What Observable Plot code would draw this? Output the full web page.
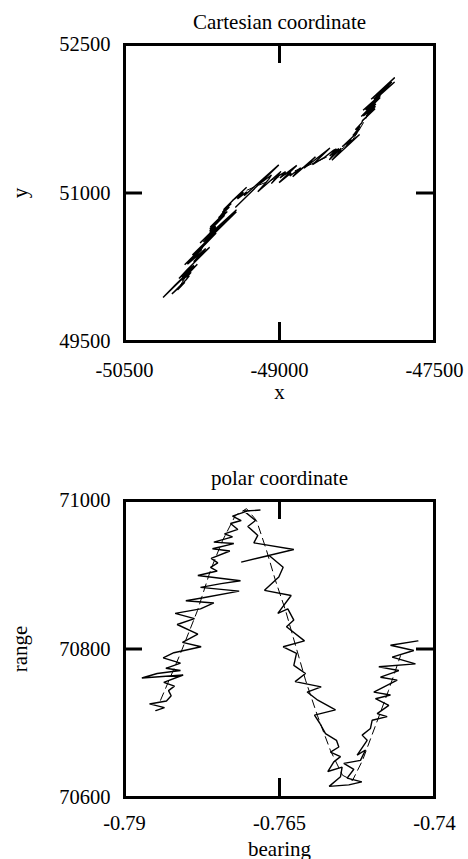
<!DOCTYPE html>
<html>
<head>
<meta charset="utf-8">
<script src="https://cdn.jsdelivr.net/npm/d3@7"></script>
<script src="https://cdn.jsdelivr.net/npm/@observablehq/plot@0.6"></script>
<style>
  html, body { margin: 0; padding: 0; background: #fff; }
  #chart svg { display: block; }
</style>
</head>
<body>
<div id="chart"></div>
<script>
// ---------- polar coordinate panel: noisy measurements ----------
const bearing = [-0.78495,-0.78355,-0.78597,-0.78323,-0.78247,-0.78290,-0.78194,-0.78366,-0.78054,-0.78720,
-0.78473,-0.78097,-0.78333,-0.78097,-0.78376,-0.78204,-0.77764,-0.78065,-0.77817,-0.78151,
-0.77871,-0.78183,-0.77774,-0.77559,-0.78011,-0.77731,-0.77151,-0.77774,-0.77441,-0.77129,
-0.77817,-0.77505,-0.77613,-0.77495,-0.77602,-0.77301,-0.77581,-0.77237,-0.77559,-0.77258,
-0.77387,-0.77172,-0.77290,-0.77118,-0.77258,-0.77011,-0.76807,-0.77075,-0.76887,-0.77011,
-0.76850,-0.76914,-0.76269,-0.77118,-0.76667,-0.76441,-0.76511,-0.76742,-0.76312,-0.76527,
-0.76366,-0.76269,-0.76387,-0.76097,-0.76441,-0.76226,-0.76269,-0.76081,-0.76248,-0.75828,
-0.76054,-0.75882,-0.75597,-0.75936,-0.75850,-0.75758,-0.75581,-0.75543,-0.75678,-0.75516,
-0.75624,-0.75721,-0.75490,-0.75516,-0.75699,-0.75382,-0.75172,-0.75409,-0.75301,-0.75463,
-0.75194,-0.75113,-0.75248,-0.75086,-0.75167,-0.75033,-0.75006,-0.74764,-0.74925,-0.74737,
-0.74952,-0.74710,-0.74979,-0.74602,-0.74871,-0.74576,-0.74898,-0.74307,-0.74683,-0.74334,
-0.74710,-0.74269];
const range = [70717,70721,70726,70730,70737,70744,70750,70755,70765,70761,
70767,70771,70774,70781,70788,70795,70803,70809,70820,70833,
70841,70848,70854,70862,70865,70869,70878,70883,70888,70892,
70899,70905,70910,70916,70922,70932,70935,70942,70944,70951,
70955,70961,70969,70973,70979,70986,70987,70986,70973,70965,
70953,70943,70934,70917,70926,70910,70897,70879,70872,70848,
70854,70839,70830,70811,70803,70794,70778,70767,70756,70749,
70742,70731,70718,70711,70700,70686,70677,70668,70661,70655,
70648,70635,70641,70628,70615,70617,70621,70626,70638,70646,
70650,70664,70657,70677,70684,70693,70704,70709,70713,70724,
70733,70738,70742,70758,70762,70771,70776,70780,70789,70798,
70805,70811];

// ---------- polar coordinate panel: smooth (dashed) track ----------
const trackBearing = [-0.78419,-0.78097,-0.77822,-0.77613,-0.77419,-0.77210,-0.77032,-0.76871,-0.76710,-0.76564,
-0.76403,-0.76242,-0.76080,-0.75887,-0.75677,-0.75484,-0.75322,-0.75161,-0.74951,-0.74742,-0.74548];
const trackRange = [70731,70794,70852,70906,70946,70980,70989,70973,70933,70892,
70852,70805,70758,70710,70663,70630,70623,70650,70697,70744,70791];

// ---------- Cartesian coordinate panel: noisy measurements ----------
const cartX = [-49983,-49916,-50041,-49906,-49873,-49899,-49855,-49945,-49795,-50127,
-50007,-49821,-49942,-49828,-49973,-49892,-49676,-49831,-49714,-49891,
-49756,-49918,-49716,-49613,-49843,-49705,-49417,-49736,-49571,-49416,
-49769,-49615,-49674,-49618,-49676,-49531,-49675,-49505,-49670,-49522,
-49590,-49485,-49551,-49466,-49542,-49421,-49318,-49454,-49349,-49407,
-49316,-49342,-49007,-49428,-49204,-49078,-49105,-49210,-48986,-49079,
-49001,-48941,-48995,-48833,-49004,-48888,-48899,-48795,-48872,-48652,
-48763,-48668,-48512,-48681,-48630,-48573,-48475,-48449,-48514,-48426,
-48477,-48518,-48403,-48408,-48493,-48331,-48225,-48351,-48304,-48393,
-48257,-48224,-48290,-48220,-48266,-48203,-48197,-48075,-48161,-48071,
-48189,-48067,-48209,-48025,-48167,-48020,-48191,-47886,-48088,-47913,
-48113,-47888];
const cartY = [50025,50098,49981,50121,50164,50147,50200,50117,50280,49944,
50073,50263,50148,50271,50136,50227,50452,50307,50438,50281,
50426,50276,50484,50596,50374,50516,50810,50505,50674,50831,
50495,50654,50604,50667,50618,50775,50638,50813,50656,50809,
50749,50859,50807,50895,50830,50957,51058,50925,51008,50941,
51012,50973,51284,50854,51083,51182,51138,51012,51218,51095,
51178,51215,51151,51279,51105,51203,51171,51255,51165,51365,
51250,51326,51455,51285,51319,51354,51433,51445,51375,51449,
51392,51335,51452,51430,51331,51487,51591,51480,51541,51468,
51601,51651,51580,51673,51639,51710,51731,51852,51777,51875,
51778,51899,51772,51965,51838,51987,51835,52122,51948,52122,
51947,52163];

// ---------- Cartesian coordinate panel: smooth (dashed) track ----------
const trackX = [-49955,-49837,-49739,-49671,-49600,-49518,-49434,-49341,-49231,-49128,
-49018,-48903,-48788,-48656,-48515,-48393,-48304,-48240,-48164,-48088,-48019];
const trackY = [50074,50280,50459,50601,50726,50854,50948,51016,51067,51109,
51159,51204,51249,51308,51377,51447,51520,51617,51753,51887,52015];

// ---------- ticks ----------
const xTicks = [-50500, -49000, -47500];
const yTicks = [49500, 51000, 52500];
const bearingTicks = [-0.79, -0.765, -0.74];
const rangeTicks = [70600, 70800, 71000];

const FONT = "Liberation Serif";

function panel({xs, ys, txs, tys, xTickVals, yTickVals, title, xLabel, yLabel,
                height, marginTop, marginBottom, xTickPad, xLabelDy}) {
  const noisy = xs.map((x, i) => ({x, y: ys[i]}));
  const track = txs.map((x, i) => ({x, y: tys[i]}));
  const frameW = 468 - 124 - 34;
  const frameH = height - marginTop - marginBottom;
  const txt = {fontFamily: FONT, fill: "black"};
  return Plot.plot({
    width: 468,
    height,
    marginLeft: 124,
    marginRight: 34,
    marginTop,
    marginBottom,
    style: {"font-family": FONT, "font-size": "20.5px", "color": "black", "background": "white", "overflow": "visible"},
    x: {domain: [xTickVals[0], xTickVals[2]]},
    y: {domain: [yTickVals[0], yTickVals[2]]},
    marks: [
      Plot.line(track, {x: "x", y: "y", stroke: "black", strokeWidth: 1, strokeDasharray: "8,5"}),
      Plot.line(noisy, {x: "x", y: "y", stroke: "black", strokeWidth: 1.4, strokeLinejoin: "miter"}),
      Plot.frame({stroke: "black", strokeWidth: 3}),
      Plot.ruleX([xTickVals[1]], {insetTop: frameH - 19, stroke: "black", strokeWidth: 3}),
      Plot.ruleX([xTickVals[1]], {insetBottom: frameH - 19, stroke: "black", strokeWidth: 3}),
      Plot.ruleY([yTickVals[1]], {insetLeft: frameW - 18, stroke: "black", strokeWidth: 3}),
      Plot.ruleY([yTickVals[1]], {insetRight: frameW - 18, stroke: "black", strokeWidth: 3}),
      Plot.axisX({ticks: xTickVals, tickSize: 0, tickPadding: xTickPad, tickFormat: d => String(d),
                  fontSize: 20.5, label: null, ...txt}),
      Plot.axisY({ticks: yTickVals, tickSize: 0, tickPadding: 14, tickFormat: d => String(d),
                  fontSize: 20.5, label: null, ...txt}),
      Plot.text([title], {frameAnchor: "top", dy: -16, lineAnchor: "bottom", textAnchor: "middle", fontSize: 21, ...txt}),
      Plot.text([xLabel], {frameAnchor: "bottom", dy: xLabelDy, lineAnchor: "bottom", textAnchor: "middle", fontSize: 21, ...txt}),
      Plot.text([yLabel], {frameAnchor: "left", dx: -104, rotate: -90, textAnchor: "middle", lineAnchor: "middle", fontSize: 21, ...txt})
    ]
  });
}

const chart = document.getElementById("chart");
chart.appendChild(panel({
  xs: cartX, ys: cartY, txs: trackX, tys: trackY,
  xTickVals: xTicks, yTickVals: yTicks,
  title: "Cartesian coordinate", xLabel: "x", yLabel: "y",
  height: 420, marginTop: 44, marginBottom: 79, xTickPad: 21, xLabelDy: 57
}));
chart.appendChild(panel({
  xs: bearing, ys: range, txs: trackBearing, tys: trackRange,
  xTickVals: bearingTicks, yTickVals: rangeTicks,
  title: "polar coordinate", xLabel: "bearing", yLabel: "range",
  height: 439, marginTop: 80, marginBottom: 62, xTickPad: 18, xLabelDy: 58
}));
</script>
</body>
</html>
